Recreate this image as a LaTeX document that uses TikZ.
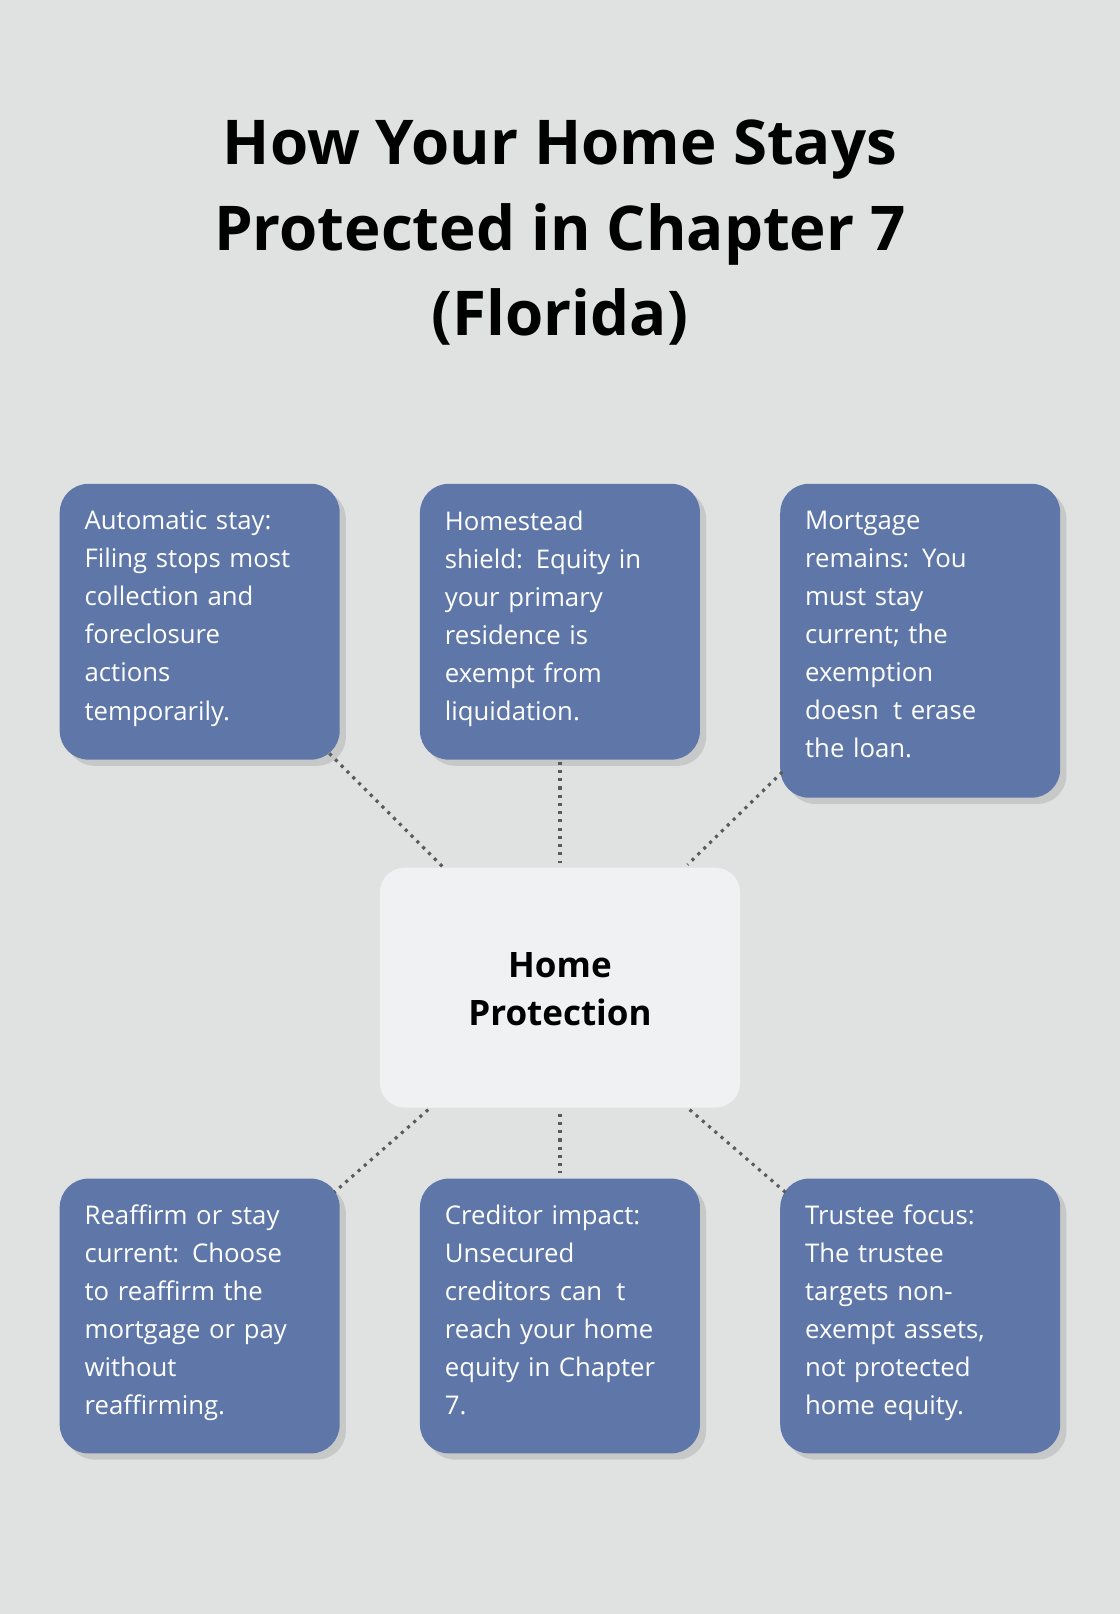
\documentclass[tikz,border=0pt]{standalone}
\usepackage{fontspec}
\setmainfont{Open Sans}
\usetikzlibrary{positioning,shadows}
\definecolor{bgcol}{HTML}{E0E2E1}
\definecolor{boxcol}{HTML}{5E77A8}
\definecolor{hubcol}{HTML}{F0F1F3}
\definecolor{linkcol}{HTML}{5A5A5A}
\tikzset{
  card/.style={draw=none, fill=boxcol, rounded corners=28pt, minimum width=272pt,
    drop shadow={shadow xshift=6pt, shadow yshift=-6pt, opacity=0.25}},
  cardtext/.style={anchor=north west, inner sep=0pt, text=white, align=left,
    text width=240pt, font=\fontsize{25}{37}\selectfont},
  link/.style={draw=linkcol, line width=3pt, dash pattern=on 3pt off 5pt}
}
\begin{document}
\begin{tikzpicture}[x=1pt, y=-1pt]
\fill[bgcol] (0,0) rectangle (1088,1568);
\useasboundingbox (0,0) rectangle (1088,1568);
% title
\node[font=\fontsize{60}{83}\selectfont\bfseries, align=center] (title) at (544,226)
  {How Your Home Stays\\Protected in Chapter 7\\(Florida)};
% cards
\fill[boxcol, card] (58,470) rectangle (330,738);
\fill[boxcol, card] (408,470) rectangle (680,738);
\fill[boxcol, card] (758,470) rectangle (1030,775);
\fill[boxcol, card] (58,1145) rectangle (330,1412);
\fill[boxcol, card] (408,1145) rectangle (680,1412);
\fill[boxcol, card] (758,1145) rectangle (1030,1412);
\node[cardtext] (stay) at (82,496) {Automatic stay:\\Filing stops most\\collection and\\foreclosure\\actions\\temporarily.};
\node[cardtext] (shield) at (432,496) {Homestead\\shield: Equity in\\your primary\\residence is\\exempt from\\liquidation.};
\node[cardtext] (mortgage) at (782,496) {Mortgage\\remains: You\\must stay\\current; the\\exemption\\doesn\hspace{0.55em}t erase\\the loan.};
\node[cardtext] (reaffirm) at (82,1170) {Reaffirm or stay\\current: Choose\\to reaffirm the\\mortgage or pay\\without\\reaffirming.};
\node[cardtext] (creditor) at (432,1170) {Creditor impact:\\Unsecured\\creditors can\hspace{0.55em}t\\reach your home\\equity in Chapter\\7.};
\node[cardtext] (trustee) at (782,1170) {Trustee focus:\\The trustee\\targets non-\\exempt assets,\\not protected\\home equity.};
% hub
\fill[hubcol, rounded corners=24pt] (369,843) rectangle (719,1076);
\node[font=\fontsize{34}{47}\selectfont\bfseries, align=center] (hub) at (544,961) {Home\\Protection};
% links
\coordinate (a1) at (320,732); \coordinate (a2) at (430,842);
\coordinate (b1) at (544,740); \coordinate (b2) at (544,838);
\coordinate (c1) at (760,750); \coordinate (c2) at (668,840);
\coordinate (d1) at (416,1078); \coordinate (d2) at (325,1158);
\coordinate (e1) at (544,1082); \coordinate (e2) at (544,1140);
\coordinate (f1) at (670,1078); \coordinate (f2) at (765,1160);
\draw[link] (a1) -- (a2);
\draw[link] (b1) -- (b2);
\draw[link] (c1) -- (c2);
\draw[link] (d1) -- (d2);
\draw[link] (e1) -- (e2);
\draw[link] (f1) -- (f2);
\end{tikzpicture}
\end{document}
